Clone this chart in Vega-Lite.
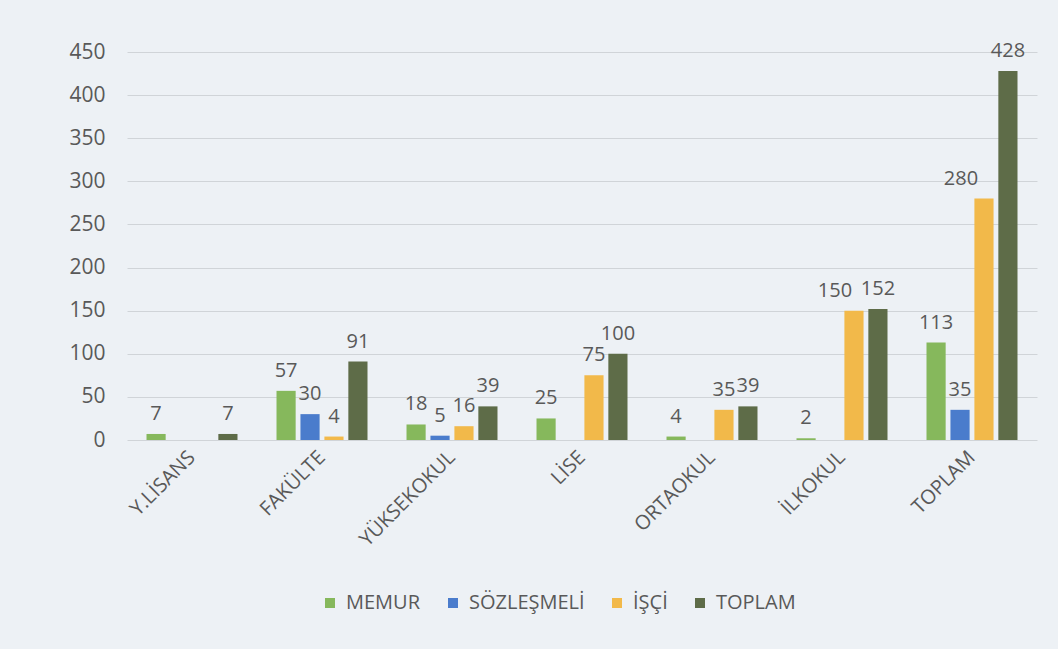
{
  "$schema": "https://vega.github.io/schema/vega-lite/v6.json",
  "width": 910,
  "height": 388,
  "autosize": {"type": "none"},
  "padding": {"left": 127, "top": 52, "right": 21, "bottom": 209},
  "background": "#edf1f5",
  "config": {
    "view": {"stroke": null},
    "font": "Open Sans",
    "axis": {"labelFont": "Open Sans", "labelColor": "#595959", "titleColor": "#595959"},
    "legend": {"labelFont": "Open Sans"}
  },
  "data": {
    "values": [
      {"kategori": "Y.LİSANS", "seri": "MEMUR", "deger": 7},
      {"kategori": "Y.LİSANS", "seri": "TOPLAM", "deger": 7},
      {"kategori": "FAKÜLTE", "seri": "MEMUR", "deger": 57},
      {"kategori": "FAKÜLTE", "seri": "SÖZLEŞMELİ", "deger": 30},
      {"kategori": "FAKÜLTE", "seri": "İŞÇİ", "deger": 4},
      {"kategori": "FAKÜLTE", "seri": "TOPLAM", "deger": 91},
      {"kategori": "YÜKSEKOKUL", "seri": "MEMUR", "deger": 18},
      {"kategori": "YÜKSEKOKUL", "seri": "SÖZLEŞMELİ", "deger": 5},
      {"kategori": "YÜKSEKOKUL", "seri": "İŞÇİ", "deger": 16},
      {"kategori": "YÜKSEKOKUL", "seri": "TOPLAM", "deger": 39},
      {"kategori": "LİSE", "seri": "MEMUR", "deger": 25},
      {"kategori": "LİSE", "seri": "İŞÇİ", "deger": 75},
      {"kategori": "LİSE", "seri": "TOPLAM", "deger": 100},
      {"kategori": "ORTAOKUL", "seri": "MEMUR", "deger": 4},
      {"kategori": "ORTAOKUL", "seri": "İŞÇİ", "deger": 35},
      {"kategori": "ORTAOKUL", "seri": "TOPLAM", "deger": 39},
      {"kategori": "İLKOKUL", "seri": "MEMUR", "deger": 2},
      {"kategori": "İLKOKUL", "seri": "İŞÇİ", "deger": 150},
      {"kategori": "İLKOKUL", "seri": "TOPLAM", "deger": 152},
      {"kategori": "TOPLAM", "seri": "MEMUR", "deger": 113},
      {"kategori": "TOPLAM", "seri": "SÖZLEŞMELİ", "deger": 35},
      {"kategori": "TOPLAM", "seri": "İŞÇİ", "deger": 280},
      {"kategori": "TOPLAM", "seri": "TOPLAM", "deger": 428}
    ]
  },
  "encoding": {
    "x": {
      "field": "kategori",
      "type": "nominal",
      "sort": ["Y.LİSANS", "FAKÜLTE", "YÜKSEKOKUL", "LİSE", "ORTAOKUL", "İLKOKUL", "TOPLAM"],
      "scale": {"paddingInner": 0.3, "paddingOuter": 0.15},
      "axis": {
        "title": null,
        "labelAngle": -45,
        "labelAlign": "right",
        "labelBaseline": "middle",
        "labelFontSize": 20,
        "labelPadding": 14,
        "ticks": false,
        "domain": false
      }
    },
    "xOffset": {
      "field": "seri",
      "type": "nominal",
      "sort": ["MEMUR", "SÖZLEŞMELİ", "İŞÇİ", "TOPLAM"],
      "scale": {"paddingInner": 0.2, "paddingOuter": 0}
    },
    "y": {
      "field": "deger",
      "type": "quantitative",
      "scale": {"domain": [0, 450], "nice": false},
      "axis": {
        "title": null,
        "values": [0, 50, 100, 150, 200, 250, 300, 350, 400, 450],
        "labelFontSize": 21,
        "labelPadding": 22,
        "ticks": false,
        "domain": false,
        "gridColor": "#d0d4d8",
        "gridWidth": 1
      }
    },
    "color": {
      "field": "seri",
      "type": "nominal",
      "sort": ["MEMUR", "SÖZLEŞMELİ", "İŞÇİ", "TOPLAM"],
      "scale": {
        "domain": ["MEMUR", "SÖZLEŞMELİ", "İŞÇİ", "TOPLAM"],
        "range": ["#86b85c", "#4a7ccc", "#f2b94a", "#5e6c48"]
      },
      "legend": {
        "title": null,
        "orient": "none",
        "direction": "horizontal",
        "legendX": 193,
        "legendY": 541,
        "symbolType": "square",
        "symbolSize": 100,
        "symbolStrokeWidth": 0,
        "labelFontSize": 20,
        "labelColor": "#595959",
        "columnPadding": 22,
        "labelOffset": 6
      }
    }
  },
  "layer": [
    {"mark": {"type": "bar"}},
    {
      "transform": [
        {"filter": "!((datum.kategori === 'İLKOKUL' && (datum.seri === 'İŞÇİ' || datum.seri === 'TOPLAM')) || (datum.kategori === 'TOPLAM' && datum.seri === 'İŞÇİ'))"}
      ],
      "mark": {"type": "text", "dy": -10, "fontSize": 20, "color": "#595959", "baseline": "bottom"},
      "encoding": {"text": {"field": "deger", "type": "quantitative"}, "color": {"value": "#595959"}}
    },
    {
      "transform": [{"filter": "datum.kategori === 'İLKOKUL' && datum.seri === 'İŞÇİ'"}],
      "mark": {"type": "text", "dy": -10, "dx": -19, "fontSize": 20, "color": "#595959", "baseline": "bottom"},
      "encoding": {"text": {"field": "deger", "type": "quantitative"}, "color": {"value": "#595959"}}
    },
    {
      "transform": [{"filter": "datum.kategori === 'İLKOKUL' && datum.seri === 'TOPLAM'"}],
      "mark": {"type": "text", "dy": -10, "dx": 0, "fontSize": 20, "color": "#595959", "baseline": "bottom"},
      "encoding": {"text": {"field": "deger", "type": "quantitative"}, "color": {"value": "#595959"}}
    },
    {
      "transform": [{"filter": "datum.kategori === 'TOPLAM' && datum.seri === 'İŞÇİ'"}],
      "mark": {"type": "text", "dy": -10, "dx": -23, "fontSize": 20, "color": "#595959", "baseline": "bottom"},
      "encoding": {"text": {"field": "deger", "type": "quantitative"}, "color": {"value": "#595959"}}
    }
  ]
}
